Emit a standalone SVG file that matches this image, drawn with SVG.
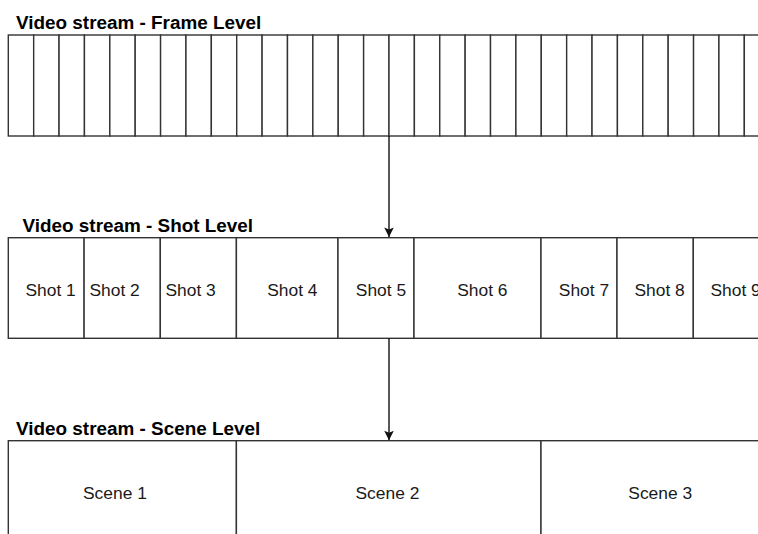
<svg xmlns="http://www.w3.org/2000/svg" width="758" height="534" viewBox="0 0 758 534">
  <style>
    .cell { fill: #ffffff; stroke: #333333; stroke-width: 1.4; }
    .title { font-family: "Liberation Sans", Arial, sans-serif; font-weight: bold; font-size: 18.9px; fill: #000000; }
    .label { font-family: "Liberation Sans", Arial, sans-serif; font-size: 17.4px; fill: #1a1a1a; }
    .edge { fill: none; stroke: #111111; stroke-width: 1.4; }
  </style>
  <defs>
    <marker id="arrow" markerUnits="userSpaceOnUse" markerWidth="12" markerHeight="12" viewBox="-11 -6 12 12" refX="0" refY="0" orient="auto">
      <path d="M0,0 L-9.5,-4.8 L-7.5,0 L-9.5,4.8 Z" fill="#111111"/>
    </marker>
  </defs>
  <rect width="758" height="534" fill="#ffffff"/>

  <!-- Frame level -->
  <text class="title" x="16" y="28.5">Video stream - Frame Level</text>
  <g id="frames">
    <rect class="cell" x="8.3" y="35" width="25.38" height="101"/>
    <rect class="cell" x="33.68" y="35" width="25.38" height="101"/>
    <rect class="cell" x="59.06" y="35" width="25.38" height="101"/>
    <rect class="cell" x="84.44" y="35" width="25.38" height="101"/>
    <rect class="cell" x="109.82" y="35" width="25.38" height="101"/>
    <rect class="cell" x="135.2" y="35" width="25.38" height="101"/>
    <rect class="cell" x="160.58" y="35" width="25.38" height="101"/>
    <rect class="cell" x="185.96" y="35" width="25.38" height="101"/>
    <rect class="cell" x="211.34" y="35" width="25.38" height="101"/>
    <rect class="cell" x="236.72" y="35" width="25.38" height="101"/>
    <rect class="cell" x="262.1" y="35" width="25.38" height="101"/>
    <rect class="cell" x="287.48" y="35" width="25.38" height="101"/>
    <rect class="cell" x="312.86" y="35" width="25.38" height="101"/>
    <rect class="cell" x="338.24" y="35" width="25.38" height="101"/>
    <rect class="cell" x="363.62" y="35" width="25.38" height="101"/>
    <rect class="cell" x="389" y="35" width="25.38" height="101"/>
    <rect class="cell" x="414.38" y="35" width="25.38" height="101"/>
    <rect class="cell" x="439.76" y="35" width="25.38" height="101"/>
    <rect class="cell" x="465.14" y="35" width="25.38" height="101"/>
    <rect class="cell" x="490.52" y="35" width="25.38" height="101"/>
    <rect class="cell" x="515.9" y="35" width="25.38" height="101"/>
    <rect class="cell" x="541.28" y="35" width="25.38" height="101"/>
    <rect class="cell" x="566.66" y="35" width="25.38" height="101"/>
    <rect class="cell" x="592.04" y="35" width="25.38" height="101"/>
    <rect class="cell" x="617.42" y="35" width="25.38" height="101"/>
    <rect class="cell" x="642.8" y="35" width="25.38" height="101"/>
    <rect class="cell" x="668.18" y="35" width="25.38" height="101"/>
    <rect class="cell" x="693.56" y="35" width="25.38" height="101"/>
    <rect class="cell" x="718.94" y="35" width="25.38" height="101"/>
    <rect class="cell" x="744.32" y="35" width="25.38" height="101"/>
  </g>

  <!-- Shot level -->
  <text class="title" x="22.5" y="232">Video stream - Shot Level</text>
  <g id="shot1"><rect class="cell" x="8.3" y="237.7" width="75.8" height="100.6"/><text class="label" x="25.5" y="296">Shot 1</text></g>
  <g id="shot2"><rect class="cell" x="84.1" y="237.7" width="76.2" height="100.6"/><text class="label" x="89.5" y="296">Shot 2</text></g>
  <g id="shot3"><rect class="cell" x="160.3" y="237.7" width="76.1" height="100.6"/><text class="label" x="165.5" y="296">Shot 3</text></g>
  <g id="shot4"><rect class="cell" x="236.4" y="237.7" width="101.6" height="100.6"/><text class="label" x="267.2" y="296">Shot 4</text></g>
  <g id="shot5"><rect class="cell" x="338" y="237.7" width="76" height="100.6"/><text class="label" x="355.8" y="296">Shot 5</text></g>
  <g id="shot6"><rect class="cell" x="414" y="237.7" width="127" height="100.6"/><text class="label" x="457.2" y="296">Shot 6</text></g>
  <g id="shot7"><rect class="cell" x="541" y="237.7" width="76" height="100.6"/><text class="label" x="558.8" y="296">Shot 7</text></g>
  <g id="shot8"><rect class="cell" x="617" y="237.7" width="76.3" height="100.6"/><text class="label" x="634.5" y="296">Shot 8</text></g>
  <g id="shot9"><rect class="cell" x="693.3" y="237.7" width="120" height="100.6"/><text class="label" x="710.5" y="296">Shot 9</text></g>

  <!-- Scene level -->
  <text class="title" x="16" y="435">Video stream - Scene Level</text>
  <g id="scene1"><rect class="cell" x="8.3" y="440.7" width="228.1" height="110"/><text class="label" x="83" y="498.5">Scene 1</text></g>
  <g id="scene2"><rect class="cell" x="236.4" y="440.7" width="304.6" height="110"/><text class="label" x="355.5" y="498.5">Scene 2</text></g>
  <g id="scene3"><rect class="cell" x="541" y="440.7" width="260" height="110"/><text class="label" x="628.3" y="498.5">Scene 3</text></g>

  <!-- Connectors -->
  <g id="connectors">
    <path class="edge" d="M389,136 L389,237" marker-end="url(#arrow)"/>
    <path class="edge" d="M389,338.3 L389,440.2" marker-end="url(#arrow)"/>
  </g>
</svg>
